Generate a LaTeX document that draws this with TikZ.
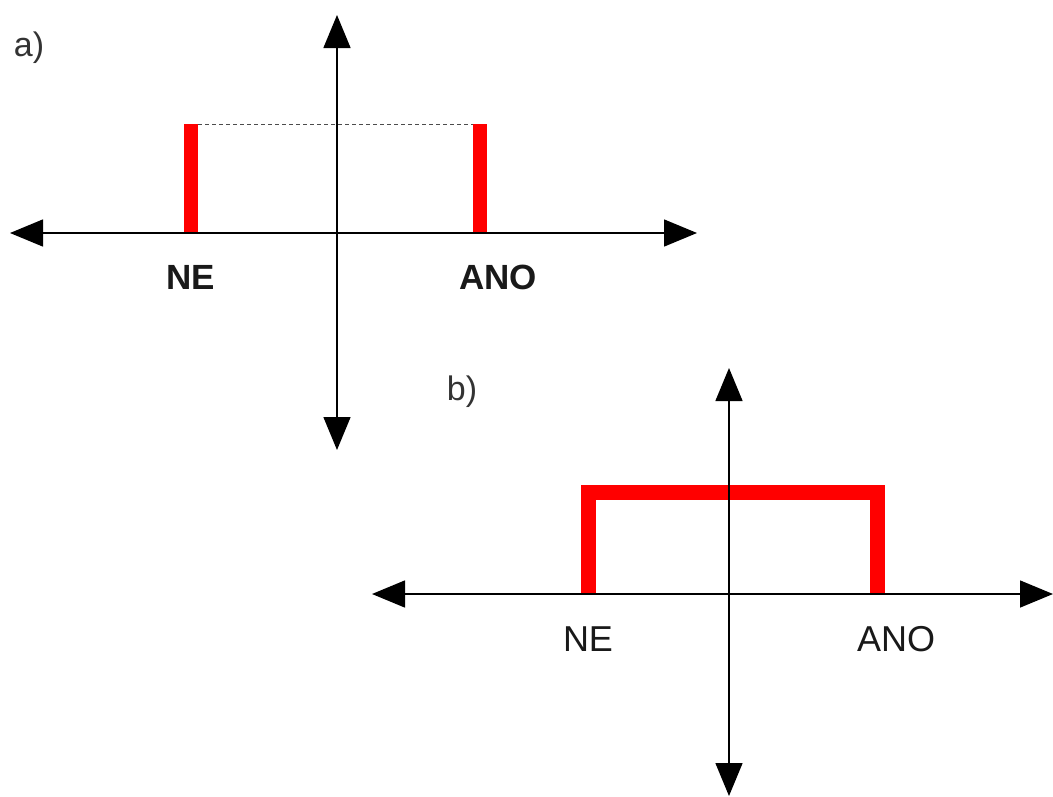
\documentclass[tikz,border=0pt]{standalone}
\usepackage{fontspec}
\setmainfont{Liberation Sans}
\usetikzlibrary{arrows.meta}

\tikzset{
  axis/.style={line width=1.5pt, {Triangle[length=33pt,width=27pt]}-{Triangle[length=33pt,width=27pt]}},
  bar/.style={line width=14pt, red},
  guide/.style={line width=1pt, black!70, dash pattern=on 4pt off 3pt},
  lbl/.style={font=\fontsize{35}{40}\selectfont\bfseries, text=black!90},
  lblb/.style={font=\fontsize{36}{41}\selectfont, text=black!90},
  tag/.style={font=\fontsize{34}{40}\selectfont, text=black!80}
}

\begin{document}
\begin{tikzpicture}[x=1pt, y=-1pt]
\useasboundingbox (0,0) rectangle (1053,796);
% a)
\coordinate (aW) at (10,233);
\coordinate (aE) at (697,233);
\coordinate (aN) at (337,15);
\coordinate (aS) at (337,450);
\coordinate (aL0) at (191,233);
\coordinate (aL1) at (191,124);
\coordinate (aR0) at (480,233);
\coordinate (aR1) at (480,124);
\draw[guide] (aL1) -- (aR1);
\draw[bar] (aL0) -- (aL1);
\draw[bar] (aR0) -- (aR1);
\draw[axis] (aW) -- (aE);
\draw[axis] (aS) -- (aN);
\node[tag] (ta) at (29,48) {a)};
\node[lbl] (aNE) at (191,277) {NE};
\node[lbl] (aANO) at (498,277) {ANO};
% b)
\coordinate (bW) at (372,594);
\coordinate (bE) at (1053,594);
\coordinate (bN) at (729,368);
\coordinate (bS) at (729,796);
\coordinate (bL0) at (588,594);
\coordinate (bL1) at (588,492);
\coordinate (bR1) at (877,492);
\coordinate (bR0) at (877,594);
\draw[bar, line width=15pt, miter limit=10] (bL0) -- (bL1) -- (bR1) -- (bR0);
\draw[axis] (bW) -- (bE);
\draw[axis] (bS) -- (bN);
\node[tag] (tb) at (462,392) {b)};
\node[lblb] (bNE) at (588,639) {NE};
\node[lblb] (bANO) at (896,639) {ANO};
\end{tikzpicture}
\end{document}
